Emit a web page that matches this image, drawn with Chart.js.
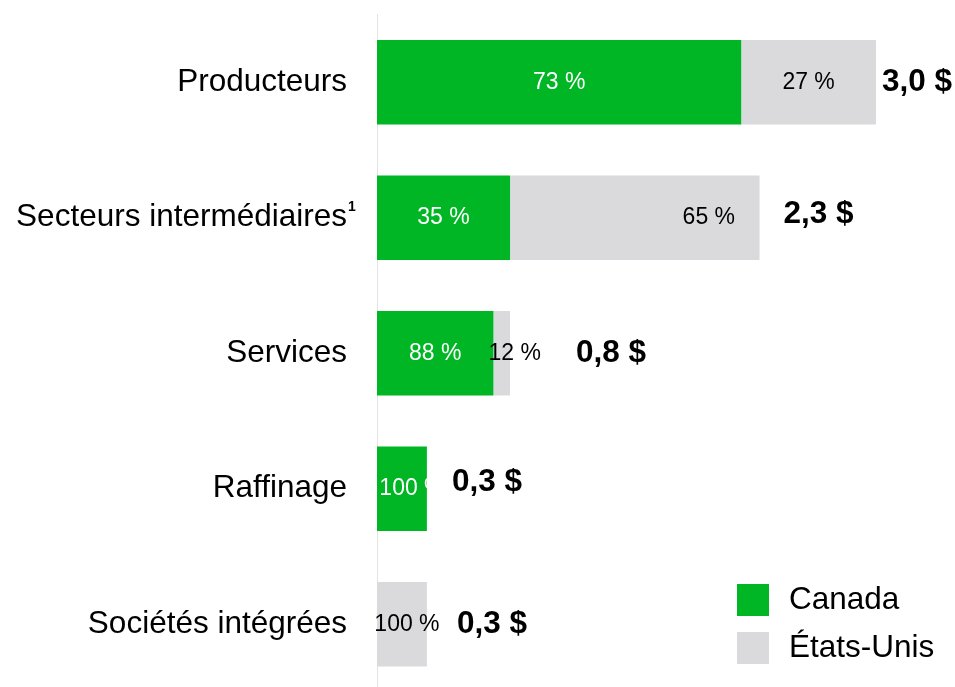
<!DOCTYPE html>
<html lang="fr">
<head>
<meta charset="utf-8">
<script src="https://cdn.jsdelivr.net/npm/chart.js@4"></script>
<style>
  html, body { margin: 0; padding: 0; overflow: hidden; background: #fff; }
  #wrap { position: relative; width: 955px; height: 700px; }
</style>
</head>
<body>
<div id="wrap"><canvas id="myChartBar"></canvas></div>
<script>
// categories and values (milliards $)
const categories = ['Producteurs', 'Secteurs intermédiaires', 'Services', 'Raffinage', 'Sociétés intégrées'];
const canadaValues = [2.19, 0.80, 0.70, 0.30, 0];
const usValues = [0.81, 1.50, 0.10, 0, 0.30];
const canadaPct = ['73 %', '35 %', '88 %', '100 %', ''];
const usPct = ['27 %', '65 %', '12 %', '', '100 %'];
const totals = ['3,0 $', '2,3 $', '0,8 $', '0,3 $', '0,3 $'];

const FONT = "'Liberation Sans', Arial, Helvetica, sans-serif";
const GREEN = '#00b624';
const GREY = '#dadadc';

// small nudges so the labels sit where the original put them
const caShift = [0, 0, 0, 10, 0];
const usShift = [0, 74, 13, 0, 5];
const totalGap = [6, 24, 66, 25, 30];
const totalDy = [0, -3, 0, -6, 0];

const labelsPlugin = {
    id: 'barLabels',
    afterDatasetsDraw(chart) {
        const ctx = chart.ctx;
        const ca = chart.getDatasetMeta(0).data;
        const us = chart.getDatasetMeta(1).data;
        ctx.save();
        ctx.textBaseline = 'middle';
        ctx.textAlign = 'center';
        ctx.font = '23px ' + FONT;
        categories.forEach((c, i) => {
            const a = ca[i].getProps(['x', 'base', 'y'], true);
            const b = us[i].getProps(['x', 'base', 'y'], true);
            if (canadaPct[i]) {
                ctx.fillStyle = '#fff';
                ctx.fillText(canadaPct[i], (a.x + a.base) / 2 + caShift[i], a.y);
            }
            if (usPct[i]) {
                ctx.fillStyle = '#000';
                ctx.fillText(usPct[i], (b.x + b.base) / 2 + usShift[i], b.y);
            }
        });
        ctx.font = 'bold 31.5px ' + FONT;
        ctx.textAlign = 'left';
        ctx.fillStyle = '#000';
        categories.forEach((c, i) => {
            const b = us[i].getProps(['x', 'y'], true);
            ctx.fillText(totals[i], b.x + totalGap[i], b.y + totalDy[i]);
        });

        // footnote mark after "Secteurs intermédiaires"
        const yScale = chart.scales.y;
        ctx.font = 'bold 14px ' + FONT;
        ctx.textBaseline = 'alphabetic';
        ctx.fillText('1', yScale.right - 29, yScale.getPixelForValue(1) - 7);

        // legend, bottom right
        const ds = chart.data.datasets;
        ctx.font = '31.5px ' + FONT;
        ctx.textBaseline = 'middle';
        ds.forEach((d, k) => {
            const top = 584 + k * 48;
            ctx.fillStyle = d.backgroundColor;
            ctx.fillRect(737, top, 32, 32);
            ctx.fillStyle = '#000';
            ctx.fillText(d.label, 789, top + 16);
        });
        ctx.restore();
    }
};

const ctx = document.getElementById('myChartBar').getContext('2d');

grafico = new Chart(ctx, {
    type: 'bar',
    data: {
        labels: categories,
        datasets: [{
            label: 'Canada',
            data: canadaValues,
            backgroundColor: GREEN
        }, {
            label: 'États-Unis',
            data: usValues,
            backgroundColor: GREY
        }]
    },
    options: {
        indexAxis: 'y',
        responsive: true,
        maintainAspectRatio: false,
        animation: false,
        datasets: {
            bar: { categoryPercentage: 1, barPercentage: 0.624 }
        },
        layout: { padding: { top: 14.5, bottom: 8, left: 0, right: 12.5 } },
        scales: {
            x: {
                stacked: true,
                min: 0,
                max: 3.4,
                display: false
            },
            y: {
                stacked: true,
                grid: { display: false, drawTicks: false },
                border: { display: true, color: '#e3e3e3', width: 1 },
                ticks: {
                    padding: 30,
                    color: '#000',
                    font: { family: FONT, size: 31.5 }
                },
                afterFit(scale) {
                    scale.width = 377;
                    scale.paddingTop = 0;
                    scale.paddingBottom = 0;
                }
            }
        },
        plugins: {
            legend: { display: false },
            tooltip: { enabled: false }
        }
    },
    plugins: [labelsPlugin]
});
</script>
</body>
</html>
